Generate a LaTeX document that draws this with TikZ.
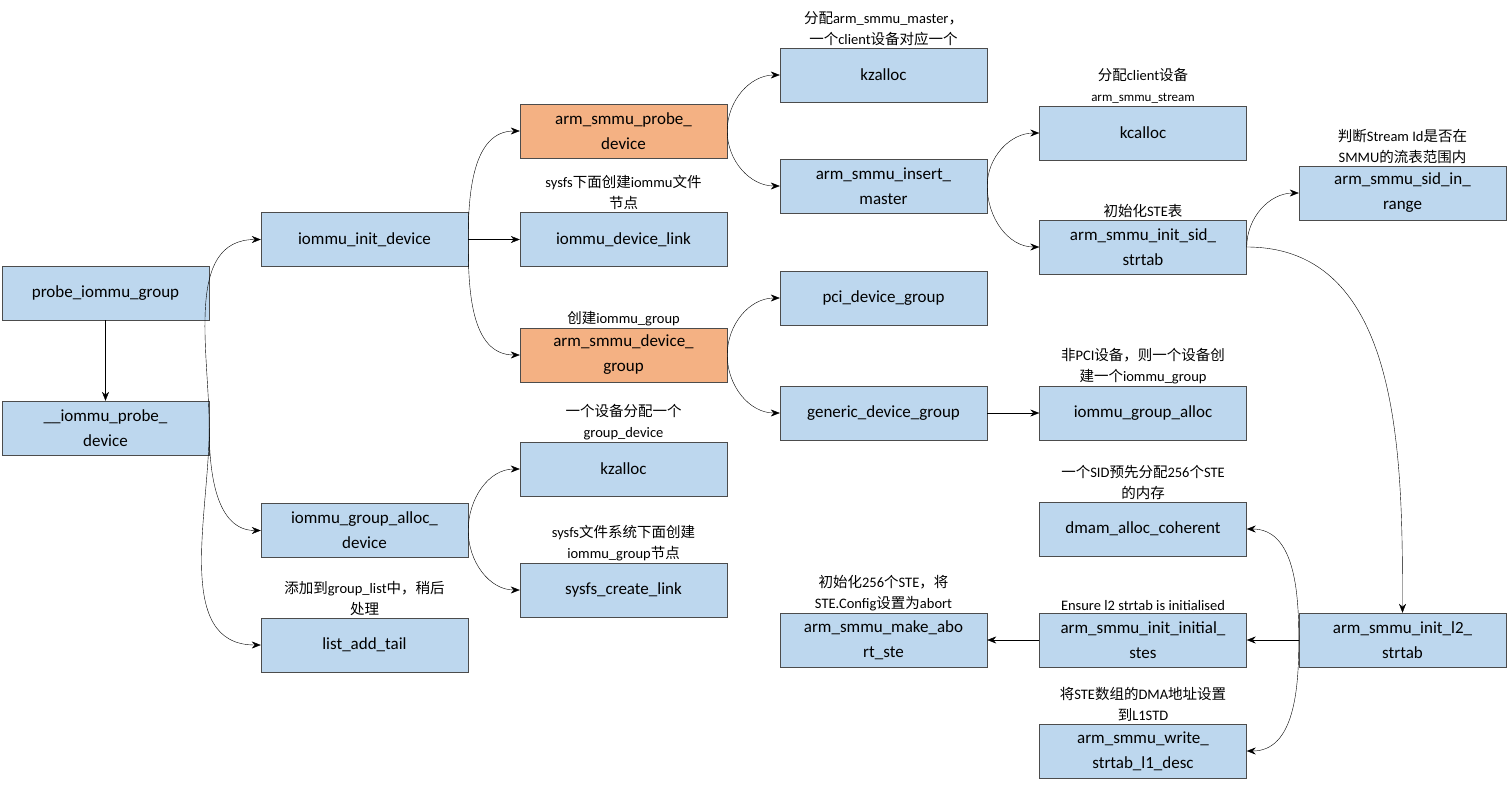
\documentclass[tikz,border=0pt]{standalone}
\usepackage{fontspec}
\setmainfont{Carlito}
\newfontfamily\cjk{Noto Sans CJK SC}
\newcommand{\zh}[1]{{\cjk #1}}
\usetikzlibrary{positioning,arrows.meta}

\begin{document}
\begin{tikzpicture}[x=1pt,y=-1pt,
  box/.style={draw=black!70,fill={rgb,255:red,189;green,215;blue,238},minimum width=207pt,minimum height=54pt,inner sep=1pt,align=center,font=\fontsize{17}{25}\selectfont},
  hot/.style={box,fill={rgb,255:red,244;green,177;blue,131}},
  note/.style={align=center,inner sep=1pt,font=\fontsize{14.5}{21}\selectfont},
  link/.style={-{Stealth[length=9pt,width=7pt]},black}]
\useasboundingbox (0,0) rectangle (1508,785);

%boxes column 1
\node[box] (probe) at (105.5,293) {probe\_iommu\_group};
\node[box] (probedev) at (105.5,428) {\_\_iommu\_probe\_\\device};
%column 2
\node[box] (initdev) at (364.5,239.5) {iommu\_init\_device};
\node[box] (galloc) at (364.5,530.5) {iommu\_group\_alloc\_\\device};
\node[box] (addtail) at (364.5,645) {list\_add\_tail};
%column 3
\node[hot] (smmuprobe) at (623.5,131) {arm\_smmu\_probe\_\\device};
\node[box] (devlink) at (623.5,239.5) {iommu\_device\_link};
\node[hot] (devgroup) at (623.5,355) {arm\_smmu\_device\_\\group};
\node[box] (kzgroup) at (623.5,469) {kzalloc};
\node[box] (sysfslink) at (623.5,590) {sysfs\_create\_link};
%column 4
\node[box] (kzmaster) at (883.5,75) {kzalloc};
\node[box] (insmaster) at (883.5,186) {arm\_smmu\_insert\_\\master};
\node[box] (pcigroup) at (883.5,298) {pci\_device\_group};
\node[box] (gengroup) at (883.5,413) {generic\_device\_group};
\node[box] (abortste) at (883.5,640) {arm\_smmu\_make\_abo\\rt\_ste};
%column 5
\node[box] (kcstream) at (1143,133) {kcalloc};
\node[box] (sidstrtab) at (1143,247) {arm\_smmu\_init\_sid\_\\strtab};
\node[box] (groupalloc) at (1143,413) {iommu\_group\_alloc};
\node[box] (dmamalloc) at (1143,529) {dmam\_alloc\_coherent};
\node[box] (initstes) at (1143,640) {arm\_smmu\_init\_initial\_\\stes};
\node[box] (l1desc) at (1143,751) {arm\_smmu\_write\_\\strtab\_l1\_desc};
%column 6
\node[box] (sidrange) at (1402.5,193) {arm\_smmu\_sid\_in\_\\range};
\node[box] (l2strtab) at (1402.5,640) {arm\_smmu\_init\_l2\_\\strtab};

% notes
\node[note,above=1pt of kzmaster] {\zh{分配}arm\_smmu\_master\zh{，}\\\zh{一个}client\zh{设备对应一个}};
\node[note,above=1pt of kcstream] {\zh{分配}client\zh{设备}\\{\fontsize{13}{17}\selectfont arm\_smmu\_stream}};
\node[note,above=1pt of sidrange] {\zh{判断}Stream Id\zh{是否在}\\SMMU\zh{的流表范围内}};
\node[note,above=1pt of sidstrtab] {\zh{初始化}STE\zh{表}};
\node[note,above=1pt of devlink] {sysfs\zh{下面创建}iommu\zh{文件}\\\zh{节点}};
\node[note,above=1pt of devgroup] {\zh{创建}iommu\_group};
\node[note,above=1pt of groupalloc] {\zh{非}PCI\zh{设备，则一个设备创}\\\zh{建一个}iommu\_group};
\node[note,above=1pt of kzgroup] {\zh{一个设备分配一个}\\group\_device};
\node[note,above=1pt of sysfslink] {sysfs\zh{文件系统下面创建}\\iommu\_group\zh{节点}};
\node[note,above=1pt of addtail] {\zh{添加到}group\_list\zh{中，稍后}\\\zh{处理}};
\node[note,above=1pt of dmamalloc] {\zh{一个}SID\zh{预先分配}256\zh{个}STE\\\zh{的内存}};
\node[note,above=1pt of abortste] {\zh{初始化}256\zh{个}STE\zh{，将}\\STE.Config\zh{设置为}abort};
\node[note,above=1pt of initstes] {Ensure l2 strtab is initialised};
\node[note,above=1pt of l1desc] {\zh{将}STE\zh{数组的}DMA\zh{地址设置}\\\zh{到}L1STD};

% connectors
\draw[link] (probe) -- (probedev);
\draw[link] (probedev.east) to[out=90,in=180] (initdev.west);
\draw[link] (probedev.east) to[out=-90,in=180] (galloc.west);
\draw[link] (probedev.east) to[out=-90,in=180] (addtail.west);
\draw[link] (initdev.east) to[out=90,in=180] (smmuprobe.west);
\draw[link] (initdev) -- (devlink);
\draw[link] (initdev.east) to[out=-90,in=180] (devgroup.west);
\draw[link] (galloc.east) to[out=90,in=180] (kzgroup.west);
\draw[link] (galloc.east) to[out=-90,in=180] (sysfslink.west);
\draw[link] (smmuprobe.east) to[out=90,in=180] (kzmaster.west);
\draw[link] (smmuprobe.east) to[out=-90,in=180] (insmaster.west);
\draw[link] (devgroup.east) to[out=90,in=180] (pcigroup.west);
\draw[link] (devgroup.east) to[out=-90,in=180] (gengroup.west);
\draw[link] (gengroup) -- (groupalloc);
\draw[link] (insmaster.east) to[out=90,in=180] (kcstream.west);
\draw[link] (insmaster.east) to[out=-90,in=180] (sidstrtab.west);
\draw[link] (sidstrtab.east) to[out=90,in=180] (sidrange.west);
\draw[link] (sidstrtab.east) to[out=0,in=90] (l2strtab.north);
\draw[link] (l2strtab.west) to[out=90,in=0] (dmamalloc.east);
\draw[link] (l2strtab) -- (initstes);
\draw[link] (l2strtab.west) to[out=-90,in=0] (l1desc.east);
\draw[link] (initstes) -- (abortste);
\end{tikzpicture}
\end{document}
